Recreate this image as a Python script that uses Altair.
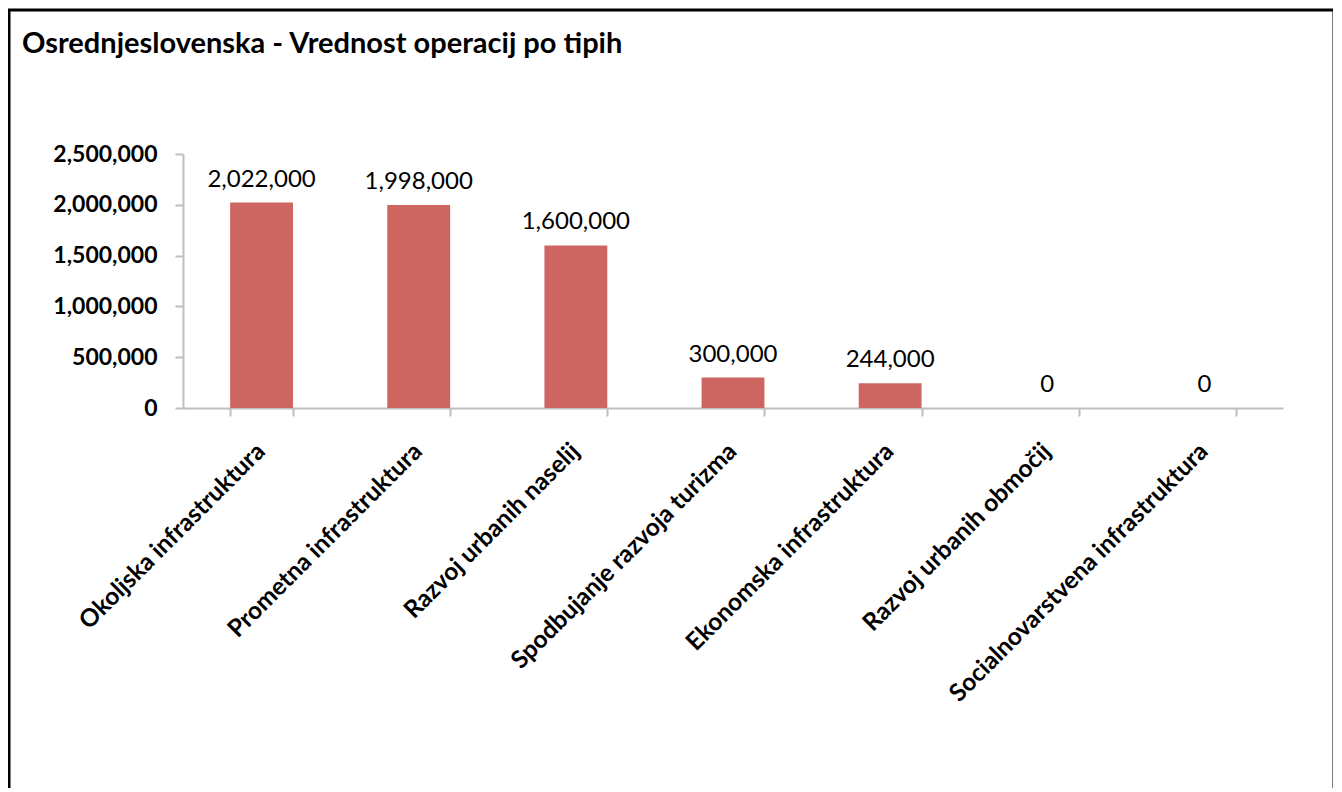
import altair as alt
import pandas as pd

categories = [
    "Okoljska infrastruktura",
    "Prometna infrastruktura",
    "Razvoj urbanih naselij",
    "Spodbujanje razvoja turizma",
    "Ekonomska infrastruktura",
    "Razvoj urbanih območij",
    "Socialnovarstvena infrastruktura",
]
values = [2022000, 1998000, 1600000, 300000, 244000, 0, 0]
y_ticks = [0, 500000, 1000000, 1500000, 2000000, 2500000]

title_text = "Osrednjeslovenska - Vrednost operacij po tipih"
FONT = "Lato"

df = pd.DataFrame({"cat": categories, "val": values})

x_enc = alt.X(
    "cat:N",
    sort=None,
    scale=alt.Scale(paddingInner=0.6, paddingOuter=0.3),
    axis=alt.Axis(
        title=None,
        labelAngle=-45,
        labelAlign="right",
        labelBaseline="top",
        labelFont=FONT,
        labelFontSize=24.5,
        labelFontWeight="bold",
        labelColor="black",
        labelPadding=23,
        labelOffset=-9,
        domainColor="#BFBFBF",
        domainWidth=2,
        tickColor="#BFBFBF",
        tickWidth=2,
        tickSize=8,
        tickBand="extent",
        labelLimit=600,
    ),
)
y_enc = alt.Y(
    "val:Q",
    scale=alt.Scale(domain=[0, 2500000]),
    axis=alt.Axis(
        title=None,
        values=y_ticks,
        format=",.0f",
        grid=False,
        labelFont=FONT,
        labelFontSize=23,
        labelFontWeight="bold",
        labelColor="black",
        labelPadding=18,
        domainColor="#BFBFBF",
        domainWidth=2,
        tickColor="#BFBFBF",
        tickWidth=2,
        tickSize=8,
    ),
)

base = alt.Chart(df)
bars = base.mark_bar(color="#CD6660").encode(x=x_enc, y=y_enc)
labels = base.mark_text(
    baseline="bottom", dy=-11, font=FONT, fontSize=24, color="black"
).encode(x=x_enc, y=y_enc, text=alt.Text("val:Q", format=","))

frame = alt.Chart(pd.DataFrame({"a": [0]})).mark_rect(
    fillOpacity=0, stroke="black", strokeWidth=3
).encode(
    x=alt.value(-174), x2=alt.value(1151), y=alt.value(-144), y2=alt.value(800)
)

title = alt.Chart(pd.DataFrame({"t": [title_text]})).mark_text(
    align="left", baseline="middle", font=FONT, fontSize=29, fontWeight="bold",
    color="black",
).encode(x=alt.value(-161), y=alt.value(-110), text="t:N")

chart = (
    alt.layer(frame, title, bars, labels)
    .properties(
        width=1100,
        height=254,
        autosize=alt.AutoSizeParams(type="none"),
        padding={"left": 175, "top": 146, "right": 50, "bottom": 380},
    )
    .configure_view(stroke=None)
)

chart.save("out.html", embed_options={"renderer": "svg", "actions": False})
